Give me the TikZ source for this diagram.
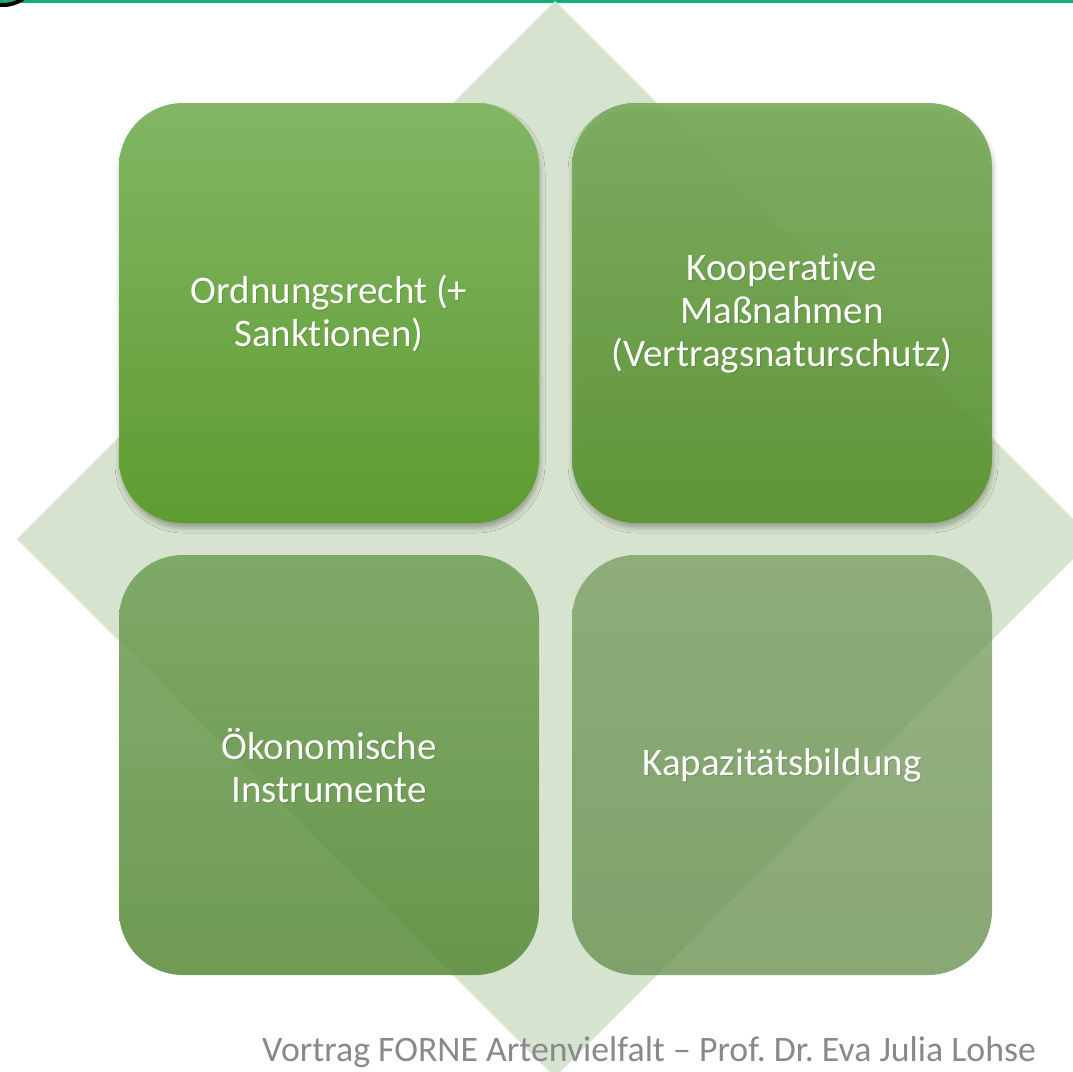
\documentclass[tikz,border=0pt]{standalone}
\usepackage{fontspec}
\setmainfont{Carlito}[Ligatures={NoCommon}]
\usetikzlibrary{shadows.blur}

\definecolor{rulegreen}{RGB}{14,176,124}
\definecolor{diamondgreen}{RGB}{214,227,206}
\definecolor{tltop}{RGB}{130,182,100}
\definecolor{tlbottom}{RGB}{94,156,48}
\definecolor{trtop}{RGB}{122,172,92}
\definecolor{trbottom}{RGB}{90,148,48}
\definecolor{bltop}{RGB}{113,160,87}
\definecolor{blbottom}{RGB}{86,138,54}
\definecolor{brtop}{RGB}{124,160,101}
\definecolor{brbottom}{RGB}{106,146,82}
\definecolor{footgray}{RGB}{137,137,137}

\tikzset{
  tile/.style={rectangle, rounded corners=64pt, minimum width=420pt, minimum height=420pt,
    inner sep=0pt, draw=none},
  tileshadow/.style={blur shadow={shadow xshift=1pt, shadow yshift=-5pt,
    shadow blur radius=5pt, shadow opacity=30}},
  label/.style={text=white, align=center, font=\fontsize{39}{43}\selectfont},
  labelshade/.style={text=black, text opacity=0.12, align=center, font=\fontsize{39}{43}\selectfont},
}

\begin{document}
\frenchspacing
\begin{tikzpicture}[x=1pt, y=-1pt]
  \useasboundingbox (0,0) rectangle (1073,1071);
  \clip (0,0) rectangle (1073,1071);

  % header rule and the edge of the logo ring
  \fill[rulegreen] (0,0) rectangle (1073,3);
  \draw[black, line width=4pt] (3,-30) circle[radius=35];

  % background diamond
  \fill[diamondgreen] (555,1) -- (1093,539) -- (555,1077) -- (17,539) -- cycle;

  % the four tiles
  \node[tile, tileshadow, top color=tltop, bottom color=tlbottom] (tl) at (329,313) {};
  \node[tile, tileshadow, top color=trtop, bottom color=trbottom, fill opacity=0.92] (tr) at (782,313) {};
  \node[tile, top color=bltop, bottom color=blbottom, fill opacity=0.86] (bl) at (329,765) {};
  \node[tile, top color=brtop, bottom color=brbottom, fill opacity=0.8] (br) at (782,765) {};

  % tile captions with a soft drop shadow
  \node[labelshade] (tlS) at ([xshift=1pt, yshift=-1.5pt]tl.center) {Ordnungsrecht (+\\Sanktionen)};
  \node[label] (tlT) at (tl.center) {Ordnungsrecht (+\\Sanktionen)};

  \node[labelshade] (trS) at ([xshift=1pt, yshift=-1.5pt]tr.center) {Kooperative\\Maßnahmen\\(Vertragsnaturschutz)};
  \node[label] (trT) at (tr.center) {Kooperative\\Maßnahmen\\(Vertragsnaturschutz)};

  \node[labelshade] (blS) at ([xshift=1pt, yshift=-1.5pt]bl.center) {Ökonomische\\Instrumente};
  \node[label] (blT) at (bl.center) {Ökonomische\\Instrumente};

  \node[labelshade] (brS) at ([xshift=1pt, yshift=-1.5pt]br.center) {Kapazitätsbildung};
  \node[label] (brT) at (br.center) {Kapazitätsbildung};

  % footer
  \node[anchor=base west, inner sep=0pt, text=footgray, font=\fontsize{35.8}{42}\selectfont]
    (foot) at (262,1061) {Vortrag FORNE Artenvielfalt – Prof. Dr. Eva Julia Lohse};
\end{tikzpicture}
\end{document}
